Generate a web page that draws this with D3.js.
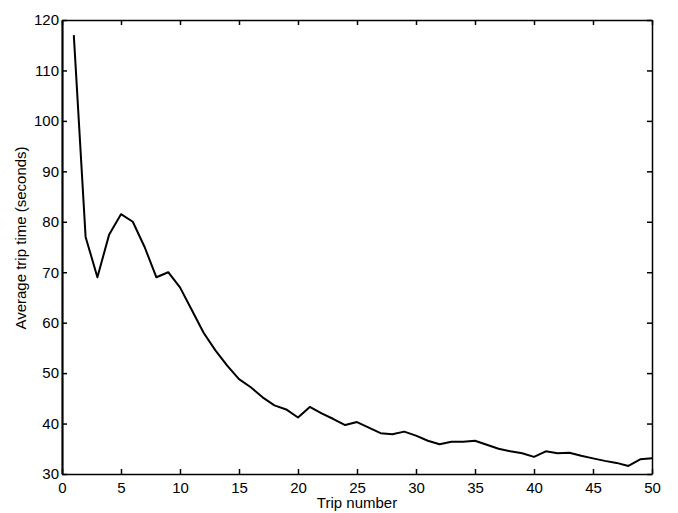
<!DOCTYPE html>
<html>
<head>
<meta charset="utf-8">
<script src="https://cdn.jsdelivr.net/npm/d3@7"></script>
<style>
  body { margin: 0; background: #fff; }
  svg { display: block; font-family: "Liberation Sans", Arial, sans-serif; }
</style>
</head>
<body>
<div id="chart"></div>
<script>
    // data
    var trips = d3.range(1, 51);
    var avgTime = [117, 77, 69, 77.5, 81.5, 80, 75, 69, 70, 67,
        62.5, 58, 54.5, 51.5, 48.8, 47.2, 45.2, 43.6, 42.8, 41.2,
        43.3, 42, 40.9, 39.7, 40.3, 39.2, 38.1, 37.9, 38.4, 37.6,
        36.6, 35.9, 36.4, 36.4, 36.6, 35.8, 35, 34.5, 34.1, 33.4,
        34.5, 34.1, 34.2, 33.6, 33.1, 32.6, 32.2, 31.6, 32.9, 33.1];
    var xTicks = [0, 5, 10, 15, 20, 25, 30, 35, 40, 45, 50];
    var yTicks = [30, 40, 50, 60, 70, 80, 90, 100, 110, 120];

    var width = 678, height = 513;
    var margin = { left: 62, top: 20, right: 26, bottom: 39 };

    var svg = d3.select("#chart").append("svg")
        .attr("width", width)
        .attr("height", height);

    var x = d3.scaleLinear().domain([0, 50]).range([margin.left, width - margin.right]);
    var y = d3.scaleLinear().domain([30, 120]).range([height - margin.bottom, margin.top]);

    // axes, matlab style ticks pointing inwards on all four sides
    var gBottom = svg.append("g").attr("transform", "translate(0," + y(30) + ")")
        .call(d3.axisBottom(x).tickValues(xTicks).tickSizeInner(-5).tickSizeOuter(0).tickPadding(8));
    var gTop = svg.append("g").attr("transform", "translate(0," + y(120) + ")")
        .call(d3.axisTop(x).tickValues(xTicks).tickSizeInner(-5).tickSizeOuter(0).tickFormat(""));
    var gLeft = svg.append("g").attr("transform", "translate(" + x(0) + ",0)")
        .call(d3.axisLeft(y).tickValues(yTicks).tickSizeInner(-5).tickSizeOuter(0).tickPadding(3));
    var gRight = svg.append("g").attr("transform", "translate(" + x(50) + ",0)")
        .call(d3.axisRight(y).tickValues(yTicks).tickSizeInner(-5).tickSizeOuter(0).tickFormat(""));

    [gBottom, gTop, gLeft, gRight].forEach(function (g) {
        g.select(".domain").attr("stroke", "#000").attr("stroke-width", 1.5);
        g.selectAll(".tick line").attr("stroke", "#000").attr("stroke-width", 1.5);
        g.selectAll("text").attr("font-size", 15).attr("fill", "#000")
            .attr("font-family", "'Liberation Sans', Arial, sans-serif");
    });
    gLeft.select(".domain").attr("stroke-width", 2.2);

    var line = d3.line()
        .x(function (d, i) { return x(trips[i]); })
        .y(function (d) { return y(d); });

    svg.append("path")
        .datum(avgTime)
        .attr("fill", "none")
        .attr("stroke", "#000")
        .attr("stroke-width", 2)
        .attr("stroke-linejoin", "round")
        .attr("d", line);

    svg.append("text")
        .attr("x", (x(0) + x(50)) / 2)
        .attr("y", 508)
        .attr("text-anchor", "middle")
        .attr("font-size", 15)
        .text("Trip number");

    svg.append("text")
        .attr("transform", "translate(26," + 238 + ") rotate(-90)")
        .attr("text-anchor", "middle")
        .attr("font-size", 15)
        .text("Average trip time (seconds)");
</script>
</body>
</html>
